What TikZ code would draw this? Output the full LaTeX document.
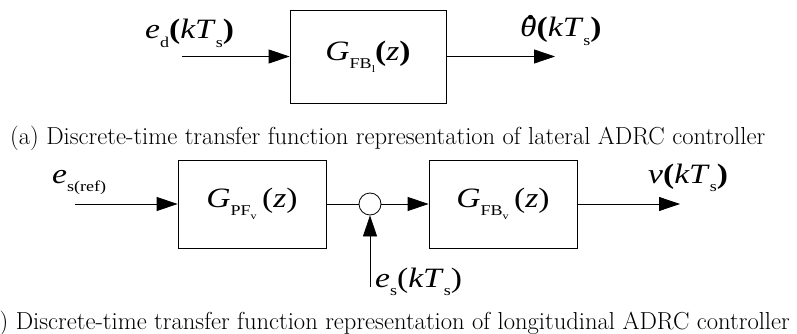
\documentclass[tikz,border=0pt]{standalone}
\usepackage{fontspec}
\usetikzlibrary{arrows.meta}
\newfontfamily\tnr{Liberation Serif}
\newcommand\sbs[1]{\raisebox{-0.3em}{\fontsize{15}{15}\selectfont\upshape #1}}
\newcommand\ssbs[1]{\raisebox{-0.25em}{\fontsize{10}{10}\selectfont\upshape #1}}
\newcommand\lab[1]{\scalebox{1.2}[1]{\tnr\fontsize{28}{28}\selectfont #1}}
\newcommand\thdot{\ooalign{\textit{θ}\cr\hidewidth\kern0.12em\raisebox{0.62em}{\textbf{.}}\hidewidth\cr}}
\newcommand\capfont{\normalfont\fontsize{18}{20}\selectfont}
\newlength\capw
\tikzset{
  blk/.style={draw, line width=0.8pt, inner sep=0pt, minimum width=#1, minimum height=88pt},
  lbl/.style={inner sep=0pt, anchor=base west},
  sig/.style={line width=0.8pt, -{Triangle[length=21pt,width=14pt]}},
  wire/.style={line width=0.8pt},
}
\begin{document}
\settowidth{\capw}{\capfont (a) Discrete-time transfer function representation of lateral ADRC controller}%
\pgfmathsetmacro\capscale{755/\capw}%
\begin{tikzpicture}[x=1pt,y=-1pt]
\useasboundingbox (0,0) rectangle (797,334);
% top diagram
\node[blk=156pt, minimum height=93pt] (g1) at (368,56.5) {\lab{\textit{G}\sbs{FB\ssbs{l}}\textbf{(}\textit{z}\textbf{)}}};
\coordinate (in1) at (182,56.5);
\coordinate (out1) at (555,56.5);
\draw[sig] (in1) -- (g1.west);
\draw[sig] (g1.east) -- (out1);
\node[lbl] (ed) at (145,39) {\lab{\textit{e}\sbs{d}\textbf{(}\textit{kT}\sbs{s}\textbf{)}}};
\node[lbl] (th) at (520,37) {\lab{\thdot\textbf{(}\textit{kT}\sbs{s}\textbf{)}}};
\node[lbl] (capa) at (10,145) {\scalebox{\capscale}{\capfont (a) Discrete-time transfer function representation of lateral ADRC controller}};
% bottom diagram
\node[blk=148pt] (pf) at (252,204) {\lab{\textit{G}\sbs{PF\ssbs{v}}\,(\textit{z})}};
\node[blk=148pt] (fb) at (503,204) {\lab{\textit{G}\sbs{FB\ssbs{v}}\,(\textit{z})}};
\node[draw, circle, line width=0.8pt, minimum size=22pt, inner sep=0pt] (sum) at (370,204) {};
\coordinate (in2) at (75,204);
\coordinate (out2) at (680,204);
\coordinate (es) at (370,287);
\draw[sig] (in2) -- (pf.west);
\draw[wire] (pf.east) -- (sum.west);
\draw[sig] (sum.east) -- (fb.west);
\draw[sig] (fb.east) -- (out2);
\draw[sig] (es) -- (sum.south);
\node[lbl] (esref) at (52,183) {\lab{\textit{e}\sbs{s(ref)}}};
\node[lbl] (v) at (648,183) {\lab{\textit{v}\textbf{(}\textit{kT}\sbs{s}\textbf{)}}};
\node[lbl] (eskt) at (375,287) {\lab{\textit{e}\sbs{s}(\textit{kT}\sbs{s})}};
\node[inner sep=0pt, anchor=base east] (capb) at (790,329) {\scalebox{\capscale}{\capfont (b) Discrete-time transfer function representation of longitudinal ADRC controller}};
\end{tikzpicture}
\end{document}
